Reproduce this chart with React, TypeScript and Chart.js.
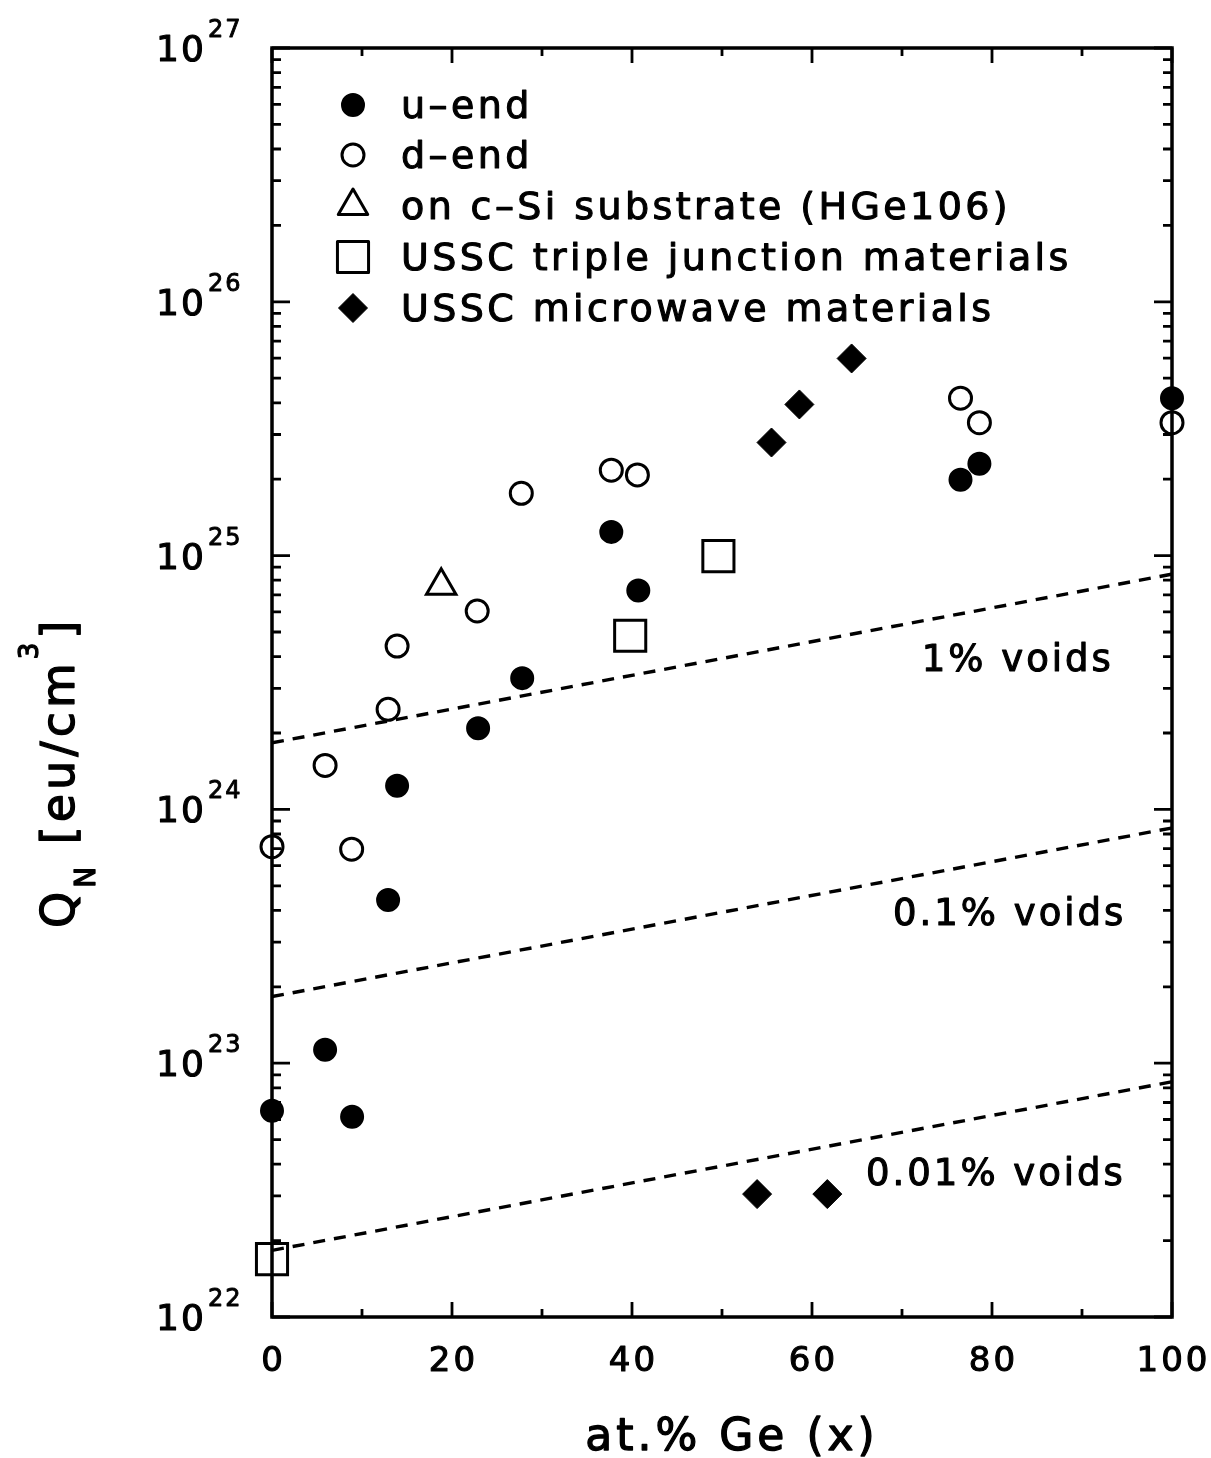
import { useEffect, useRef } from 'react';
import { Chart, registerables } from 'chart.js';
import { drawPoint } from 'chart.js/helpers';

Chart.register(...registerables);

// u-end samples (filled circles)
const uEndX = [0, 5.9, 8.9, 12.9, 13.9, 22.9, 27.8, 37.7, 40.7, 76.5, 78.6, 100];
const uEndQ = [6.5e22, 1.13e23, 6.15e22, 4.4e23, 1.24e24, 2.09e24, 3.29e24, 1.24e25, 7.28e24, 1.99e25, 2.3e25, 4.17e25];

// d-end samples (open circles)
const dEndX = [0, 5.9, 8.85, 12.9, 13.9, 22.8, 27.7, 37.7, 40.6, 76.5, 78.6, 100];
const dEndQ = [7.13e23, 1.49e24, 6.97e23, 2.48e24, 4.4e24, 6.05e24, 1.76e25, 2.17e25, 2.08e25, 4.17e25, 3.34e25, 3.34e25];

// film on c-Si substrate (HGe106)
const cSiX = [18.8];
const cSiQ = [7.6e24];

// USSC triple junction materials
const tripleX = [0, 39.8, 49.6];
const tripleQ = [1.69e22, 4.83e24, 9.95e24];

// USSC microwave materials
const microX = [53.9, 55.5, 58.6, 61.7, 64.4];
const microQ = [3.05e22, 2.79e25, 3.94e25, 3.05e22, 5.98e25];

// void-fraction reference lines
const voidX = [0, 100];
const void1Q = [1.83e24, 8.45e24];
const void01Q = [1.83e23, 8.45e23];
const void001Q = [1.83e22, 8.45e22];

const voidLabels = ['1% voids', '0.1% voids', '0.01% voids'];
const voidLabelX = [72.2, 69, 66];
const voidLabelQ = [3.5e24, 3.5e23, 3.3e22];

// axis ticks
const xTickValues = [0, 20, 40, 60, 80, 100];
const xMinorValues = [10, 30, 50, 70, 90];
const yDecades = [22, 23, 24, 25, 26, 27];

const legendLabels = [
  'u\u2013end',
  'd\u2013end',
  'on c\u2013Si substrate (HGe106)',
  'USSC triple junction materials',
  'USSC microwave materials',
];

const FONT = '"DejaVu Sans", sans-serif';

const toPoints = (xs: number[], ys: number[]) => xs.map((x, i) => ({ x, y: ys[i] }));

const markerStyles = [
  { pointStyle: 'circle', radius: 11, fill: '#000', borderWidth: 2 },
  { pointStyle: 'circle', radius: 11, fill: 'rgba(0,0,0,0)', borderWidth: 3 },
  { pointStyle: 'triangle', radius: 17, fill: 'rgba(0,0,0,0)', borderWidth: 3 },
  { pointStyle: 'rect', radius: 22, fill: 'rgba(0,0,0,0)', borderWidth: 3 },
  { pointStyle: 'rectRot', radius: 14.5, fill: '#000', borderWidth: 1 },
];

function setFont(ctx: CanvasRenderingContext2D, size: number, spacing: number) {
  ctx.font = `${size}px ${FONT}`;
  (ctx as any).letterSpacing = `${spacing}px`;
}

// filled text with a thin outline for a heavier plotter-style stroke
function heavyText(ctx: CanvasRenderingContext2D, t: string, x: number, y: number, w = 1.1) {
  ctx.lineWidth = w;
  ctx.lineJoin = 'round';
  ctx.strokeStyle = '#000';
  ctx.fillText(t, x, y);
  ctx.strokeText(t, x, y);
}

const framePlugin = {
  id: 'frame',
  beforeDraw(chart: any) {
    const { ctx, width, height } = chart;
    ctx.save();
    ctx.fillStyle = '#fff';
    ctx.fillRect(0, 0, width, height);
    ctx.restore();
  },
  beforeDatasetsDraw(chart: any) {
    const { ctx, chartArea: a } = chart;
    const xs = chart.scales.x;
    const ys = chart.scales.y;
    ctx.save();
    ctx.strokeStyle = '#000';
    ctx.lineCap = 'butt';
    ctx.lineWidth = 3.5;
    ctx.strokeRect(a.left, a.top, a.right - a.left, a.bottom - a.top);

    ctx.lineWidth = 2.8;
    const hTick = (y: number, len: number) => {
      ctx.beginPath();
      ctx.moveTo(a.left, y);
      ctx.lineTo(a.left + len, y);
      ctx.moveTo(a.right, y);
      ctx.lineTo(a.right - len, y);
      ctx.stroke();
    };
    const vTick = (x: number, len: number) => {
      ctx.beginPath();
      ctx.moveTo(x, a.bottom);
      ctx.lineTo(x, a.bottom - len);
      ctx.moveTo(x, a.top);
      ctx.lineTo(x, a.top + len);
      ctx.stroke();
    };
    yDecades.forEach((d) => {
      hTick(ys.getPixelForValue(Math.pow(10, d)), 18);
      if (d < yDecades[yDecades.length - 1]) {
        for (let k = 2; k <= 9; k++) hTick(ys.getPixelForValue(k * Math.pow(10, d)), 9);
      }
    });
    xTickValues.forEach((v) => vTick(xs.getPixelForValue(v), 15));
    xMinorValues.forEach((v) => vTick(xs.getPixelForValue(v), 8));
    ctx.restore();
  },
  afterDraw(chart: any) {
    const { ctx, chartArea: a } = chart;
    const xs = chart.scales.x;
    const ys = chart.scales.y;
    ctx.save();
    ctx.fillStyle = '#000';
    ctx.textBaseline = 'alphabetic';

    // x tick labels
    setFont(ctx, 34, 3);
    ctx.textAlign = 'center';
    xTickValues.forEach((v) => {
      heavyText(ctx, String(v), xs.getPixelForValue(v) + 1.5, a.bottom + 54);
    });

    // y tick labels: 10 with superscript exponent
    ctx.textAlign = 'left';
    yDecades.forEach((d) => {
      const y = ys.getPixelForValue(Math.pow(10, d));
      setFont(ctx, 36, 2);
      heavyText(ctx, '10', a.left - 116, y + 13);
      setFont(ctx, 24, 2);
      heavyText(ctx, String(d), a.left - 64, y - 11, 0.9);
    });

    // void-fraction labels
    setFont(ctx, 37, 3);
    voidLabels.forEach((t, i) => {
      heavyText(ctx, t, xs.getPixelForValue(voidLabelX[i]), ys.getPixelForValue(voidLabelQ[i]));
    });

    // legend
    const rowY = [105, 155, 206, 257, 308];
    legendLabels.forEach((t, i) => {
      const m = markerStyles[i];
      ctx.save();
      ctx.fillStyle = m.fill;
      ctx.strokeStyle = '#000';
      ctx.lineWidth = m.borderWidth;
      drawPoint(ctx, { pointStyle: m.pointStyle as any, radius: m.radius, rotation: 0, borderWidth: m.borderWidth }, 353, rowY[i]);
      ctx.restore();
      setFont(ctx, 38, 3.4);
      ctx.textAlign = 'left';
      heavyText(ctx, t, 401, rowY[i] + 13);
    });

    // x axis title
    setFont(ctx, 44, 4);
    ctx.textAlign = 'center';
    heavyText(ctx, 'at.% Ge (x)', (a.left + a.right) / 2 + 10, 1450, 1.3);

    // y axis title, rotated
    ctx.translate(74, 928);
    ctx.rotate(-Math.PI / 2);
    ctx.textAlign = 'left';
    const parts = [
      { t: 'Q', s: 46, dy: 0 },
      { t: 'N', s: 28, dy: 21 },
      { t: ' [eu/cm', s: 46, dy: 0 },
      { t: '3', s: 26, dy: -36 },
      { t: ']', s: 46, dy: 0 },
    ];
    let cx = 0;
    parts.forEach((p) => {
      setFont(ctx, p.s, 4);
      heavyText(ctx, p.t, cx, p.dy, 1.3);
      cx += ctx.measureText(p.t).width;
    });
    ctx.restore();
  },
};

export default function App() {
  const canvasRef = useRef<HTMLCanvasElement | null>(null);

  useEffect(() => {
    const canvas = canvasRef.current;
    if (!canvas) return;
    const scatterSet = (label: string, xs: number[], ys: number[], i: number) => {
      const m = markerStyles[i];
      return {
        type: 'scatter' as const,
        label,
        data: toPoints(xs, ys),
        pointStyle: m.pointStyle,
        pointRadius: m.radius,
        pointBackgroundColor: m.fill,
        pointBorderColor: '#000',
        pointBorderWidth: m.borderWidth,
        showLine: false,
        clip: false,
      };
    };
    const voidSet = (label: string, ys: number[]) => ({
      type: 'scatter' as const,
      label,
      data: toPoints(voidX, ys),
      showLine: true,
      borderColor: '#000',
      borderWidth: 3.4,
      borderDash: [12, 9],
      pointRadius: 0,
      fill: false,
    });

    const chart = new Chart(canvas, {
      type: 'scatter',
      data: {
        datasets: [
          voidSet(voidLabels[0], void1Q),
          voidSet(voidLabels[1], void01Q),
          voidSet(voidLabels[2], void001Q),
          scatterSet(legendLabels[0], uEndX, uEndQ, 0),
          scatterSet(legendLabels[1], dEndX, dEndQ, 1),
          scatterSet(legendLabels[2], cSiX, cSiQ, 2),
          scatterSet(legendLabels[3], tripleX, tripleQ, 3),
          scatterSet(legendLabels[4], microX, microQ, 4),
        ] as any,
      },
      options: {
        responsive: false,
        animation: false,
        devicePixelRatio: 1,
        layout: { padding: { left: 272, right: 39, top: 48, bottom: 141 } },
        scales: {
          x: { type: 'linear', min: 0, max: 100, display: false },
          y: { type: 'logarithmic', min: 1e22, max: 1e27, display: false },
        },
        plugins: { legend: { display: false }, tooltip: { enabled: false } },
      },
      plugins: [framePlugin],
    });
    return () => chart.destroy();
  }, []);

  return (
    <div style={{ position: 'absolute', left: 0, top: 0, width: 1211, height: 1458, background: '#fff' }}>
      <canvas ref={canvasRef} width={1211} height={1458} style={{ display: 'block' }} />
    </div>
  );
}
